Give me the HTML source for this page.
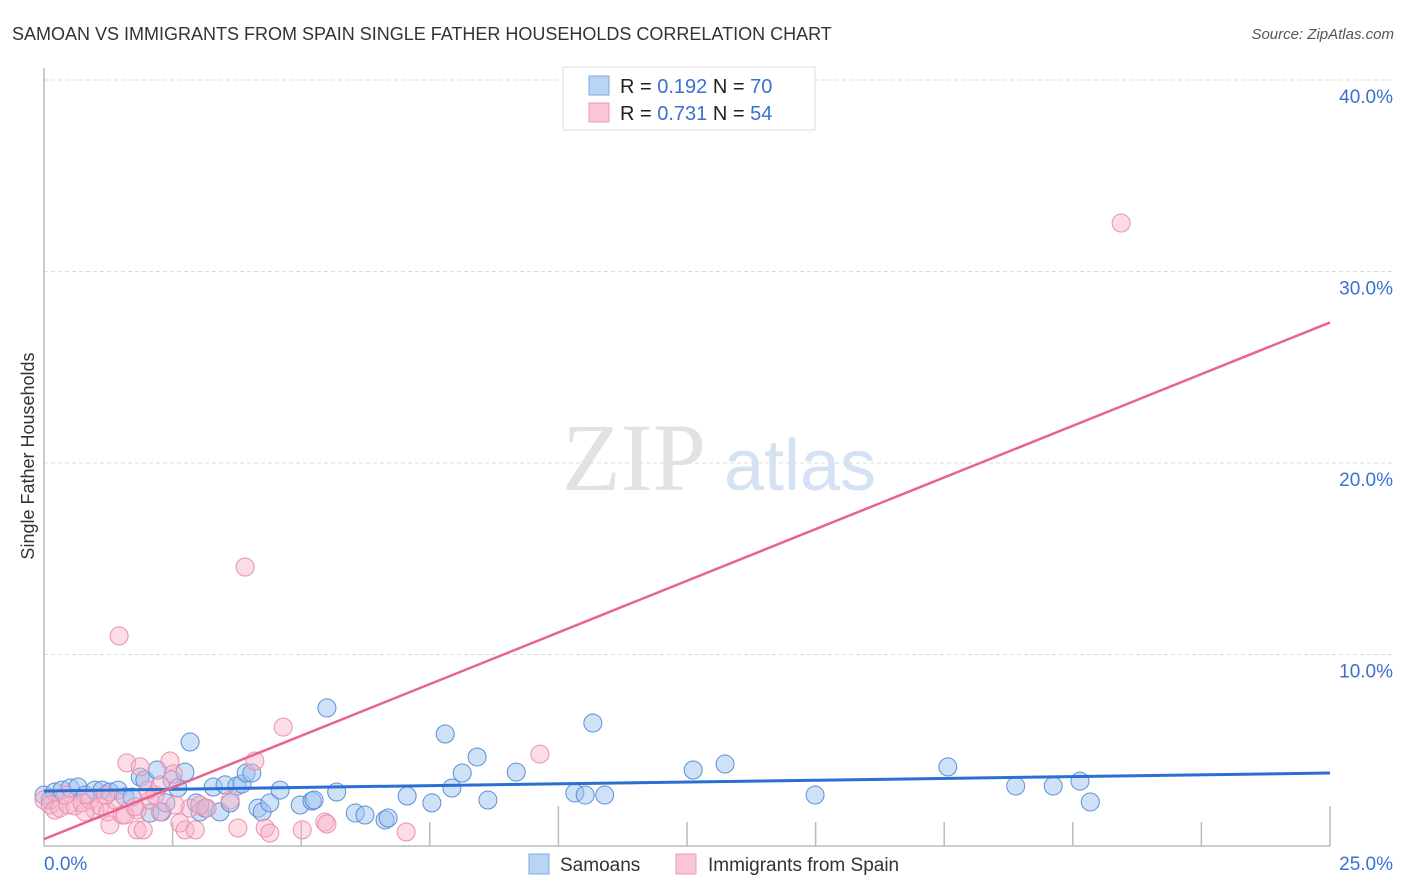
<!DOCTYPE html>
<html><head><meta charset="utf-8"><style>
body{margin:0;background:#fff;font-family:"Liberation Sans",sans-serif;}
svg{display:block}
</style></head><body>
<svg id="chart" width="1406" height="892" xmlns="http://www.w3.org/2000/svg">
<text x="12" y="40" font-size="18" fill="#333">SAMOAN VS IMMIGRANTS FROM SPAIN SINGLE FATHER HOUSEHOLDS CORRELATION CHART</text>
<text x="1394" y="39" font-size="15" fill="#555" font-style="italic" text-anchor="end">Source: ZipAtlas.com</text>
<text x="34" y="456" font-size="18" fill="#333" text-anchor="middle" transform="rotate(-90 34 456)">Single Father Households</text>
<g>
<text x="634" y="490" font-size="96" fill="#e2e2e2" font-family="Liberation Serif, serif" text-anchor="middle">ZIP</text>
<text x="800" y="490" font-size="72" fill="#d5e2f3" text-anchor="middle">atlas</text>
</g>
<g id="grid"></g><g id="marks"></g>
<g>
<rect x="563" y="67" width="252" height="63" fill="#fff" stroke="#ddd"/>
<rect x="589" y="76" width="20" height="19" fill="#b9d4f7" stroke="#7fa9e0"/>
<rect x="589" y="103" width="20" height="19" fill="#fac6d5" stroke="#ec9ab4"/>
<text x="620" y="93" font-size="20" fill="#222">R = <tspan fill="#3a70d0">0.192</tspan>   N = <tspan fill="#3a70d0">70</tspan></text>
<text x="620" y="120" font-size="20" fill="#222">R = <tspan fill="#3a70d0">0.731</tspan>   N = <tspan fill="#3a70d0">54</tspan></text>
</g>
<g>
<rect x="529" y="854" width="20" height="20" fill="#b9d4f7" stroke="#7fa9e0"/>
<text x="560" y="871" font-size="19" fill="#333">Samoans</text>
<rect x="676" y="854" width="20" height="20" fill="#fac6d5" stroke="#ec9ab4"/>
<text x="708" y="871" font-size="19" fill="#333">Immigrants from Spain</text>
</g>
</svg>
<script>
const yTicks=[10,20,30,40];
const yTickLabels=["10.0%","20.0%","30.0%","40.0%"];
const xTicks=[2.5,5,7.5,10,12.5,15,17.5,20,22.5,25];
const samoanX=[0,0.12,0.21,0.35,0.51,0.66,0.8,0.99,1.13,1.28,1.44,1.575,1.71,1.87,1.96,2.06,2.2,2.29,2.37,2.49,2.6,2.74,2.84,2.96,3.03,3.13,3.29,3.42,3.52,3.62,3.75,3.85,3.93,4.04,4.16,4.24,4.39,4.59,4.98,5.21,5.25,5.5,5.69,6.05,6.24,6.63,6.69,7.06,7.54,7.8,7.93,8.13,8.42,8.63,9.18,10.32,10.52,10.67,10.9,12.62,13.24,14.99,17.57,18.89,19.62,20.14,20.34];
const samoanY=[2.66,2.4,2.82,2.92,3.03,3.08,2.66,2.92,2.92,2.82,2.92,2.56,2.56,3.6,3.45,1.72,3.97,1.78,2.25,3.45,3.03,3.86,5.43,2.25,1.78,1.98,3.08,1.78,3.19,2.25,3.13,3.24,3.81,3.81,1.98,1.78,2.25,2.92,2.14,2.35,2.4,7.21,2.82,1.72,1.62,1.36,1.46,2.61,2.25,5.85,3.03,3.81,4.65,2.4,3.86,2.77,2.66,6.42,2.66,3.97,4.28,2.66,4.13,3.13,3.13,3.39,2.30];
const spainX=[0,0.12,0.21,0.31,0.47,0.6,0.74,0.89,0.99,1.09,1.24,1.28,1.38,1.46,1.52,1.61,1.81,1.81,1.87,1.93,2.06,2.16,2.26,2.45,2.51,2.64,2.74,2.84,2.94,3.17,3.77,3.91,4.1,4.3,4.39,4.65,5.02,5.46,5.5,7.04,9.64,20.94,1.575,0.80,0.41,1.2,2.02,2.55,3.03,3.62,2.26,1.77];
const spainY=[2.4,2.14,1.88,1.98,2.14,2.09,2.25,2.4,1.88,2.09,1.78,1.1,2.4,10.97,1.62,4.34,0.84,1.88,4.13,0.84,2.4,2.66,1.78,4.44,3.76,1.2,0.84,1.98,0.84,1.98,0.94,14.57,4.44,0.94,0.68,6.21,0.84,1.25,1.15,0.73,4.8,32.53,1.62,1.78,2.66,2.66,2.92,2.14,2.14,2.4,3.19,2.04];
const samoanTrend=[2.87,3.81];
const spainTrend=[0.36,27.34];
const xDomain=[0,25], yDomain=[0,40];
const X=v=>44+(v-xDomain[0])/(xDomain[1]-xDomain[0])*1286;
const Y=v=>846-(v-yDomain[0])/(yDomain[1]-yDomain[0])*766;
const NS="http://www.w3.org/2000/svg";
function mk(tag,attrs,parent){const e=document.createElementNS(NS,tag);for(const k in attrs)e.setAttribute(k,attrs[k]);parent.appendChild(e);return e;}
const grid=document.getElementById('grid'), marks=document.getElementById('marks');
yTicks.forEach((t,i)=>{
  const l=mk('line',{x1:44,x2:1392,y1:Y(t),y2:Y(t),stroke:'#ddd','stroke-dasharray':'4 3'},grid);
  
  
  const tx=mk('text',{x:1393,y:Y(t)+23,'font-size':19,fill:'#3a70d0','text-anchor':'end'},grid);
  tx.textContent=yTickLabels[i];
  
  
});
const ax=mk('line',{x1:44,x2:44,y1:68,y2:846,stroke:'#bbb','stroke-width':1.5},grid);


const bx=mk('line',{x1:44,x2:1330,y1:846,y2:846,stroke:'#bbb','stroke-width':1.5},grid);


xTicks.forEach(t=>{
  const tall=(t===10||t===25);
  const l=mk('line',{x1:X(t),x2:X(t),y1:tall?806:822,y2:846,stroke:'#bbb','stroke-width':1.5},grid);
  
  
});
[["0.0%",44,"start"],["25.0%",1393,"end"]].forEach(a=>{
  const tx=mk('text',{x:a[1],y:870,'font-size':19,fill:'#3a70d0','text-anchor':a[2]},grid);
  tx.textContent=a[0];
  
  
});
samoanX.forEach((v,i)=>{
  const c=mk('circle',{cx:X(v),cy:Y(samoanY[i]),r:9,fill:'rgba(160,196,240,0.5)',stroke:'#5b8fd8','stroke-width':1},marks);
  
  
});
spainX.forEach((v,i)=>{
  const c=mk('circle',{cx:X(v),cy:Y(spainY[i]),r:9,fill:'rgba(248,180,200,0.45)',stroke:'#ec8fae','stroke-width':1},marks);
  
  
});
const t1=mk('line',{x1:X(0),y1:Y(samoanTrend[0]),x2:X(25),y2:Y(samoanTrend[1]),stroke:'#2a6fd4','stroke-width':3},marks);


const t2=mk('line',{x1:X(0),y1:Y(spainTrend[0]),x2:X(25),y2:Y(spainTrend[1]),stroke:'#e8648f','stroke-width':2.5},marks);


</script>
</body></html>
